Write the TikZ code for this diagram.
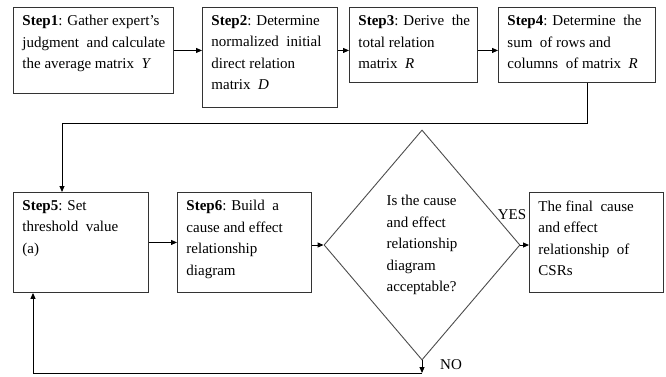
\documentclass[tikz,border=0pt]{standalone}
\usepackage{fontspec}
\setmainfont{Liberation Serif}
\usetikzlibrary{arrows.meta, positioning, shapes.geometric}

\begin{document}
\begin{tikzpicture}[x=1pt, y=1pt, line width=0.9pt,
  arr/.style={-{Triangle[length=6pt,width=5pt]}},
  stepbox/.style n args={2}{draw=black!80, anchor=north west, inner sep=0pt,
    minimum width=#1, minimum height=#2},
  steptext/.style={anchor=north west, align=left, inner xsep=9pt, inner ysep=8pt,
    font=\fontsize{15}{21.5}\selectfont},
  decision/.style={draw=black!70, diamond, inner sep=0pt, align=left,
    minimum width=196pt, minimum height=230pt, font=\fontsize{15}{21.5}\selectfont},
  lbl/.style={font=\fontsize{15}{18}\selectfont, inner sep=0pt}]
  \useasboundingbox (0,0) rectangle (666,376);
  % first row
  \node[stepbox={160pt}{86pt}] (s1) at (13,369) {};
  \node[steptext] (t1) at (s1.north west) {\textbf{Step1}: Gather expert's\\judgment\ \ and calculate\\the average matrix\ \ \textit{Y}};
  \node[stepbox={135pt}{100pt}] (s2) at (202,369) {};
  \node[steptext] (t2) at (s2.north west) {\textbf{Step2}: Determine\\normalized\ \ initial\\direct relation\\matrix\ \ \textit{D}};
  \node[stepbox={128pt}{75pt}] (s3) at (349,369) {};
  \node[steptext] (t3) at (s3.north west) {\textbf{Step3}: Derive\ \ the\\total relation\\matrix\ \ \textit{R}};
  \node[stepbox={157pt}{75pt}] (s4) at (498,369) {};
  \node[steptext] (t4) at (s4.north west) {\textbf{Step4}: Determine\ \ the\\sum\ \ of rows and\\columns\ \ of matrix\ \ \textit{R}};
  % second row
  \node[stepbox={135pt}{100pt}] (s5) at (13,184) {};
  \node[steptext] (t5) at (s5.north west) {\textbf{Step5}: Set\\threshold\ \ value\\(a)};
  \node[stepbox={134pt}{100pt}] (s6) at (177,184) {};
  \node[steptext] (t6) at (s6.north west) {\textbf{Step6}: Build\ \ a\\cause and effect\\relationship\\diagram};
  \node[decision] (dec) at (422,131) {Is the cause\\and effect\\relationship\\diagram\\acceptable?};
  \node[stepbox={134pt}{100pt}] (s7) at (529,184) {};
  \node[steptext] (t7) at (s7.north west) {The final\ \ cause\\and effect\\relationship\ \ of\\CSRs};
  \node[lbl] (yes) at (512,161) {YES};
  \node[lbl] (no) at (451,11) {NO};
  % connectors
  \draw[arr] (s1.east) -- (s1.east -| s2.west);
  \draw[arr] (s2.east |- s1.east) -- (s3.west |- s1.east);
  \draw[arr] (s3.east |- s1.east) -- (s4.west |- s1.east);
  \coordinate (bend1) at (587,253);
  \coordinate (bend2) at (62,253);
  \draw[arr] (s4.south -| bend1) -- (bend1) -- (bend2) -- (bend2 |- s5.north);
  \draw[arr] (s5.east) -- (s6.west);
  \draw[arr] (s6.east |- dec.west) -- (dec.west);
  \draw[arr] (dec.east) -- (dec.east -| s7.west);
  % loop back on NO
  \coordinate (noend) at (422,3);
  \coordinate (back) at (33,3);
  \draw[arr] (dec.south) -- (noend);
  \draw[arr] (noend) -- (back) -- (back |- s5.south);
\end{tikzpicture}
\end{document}
